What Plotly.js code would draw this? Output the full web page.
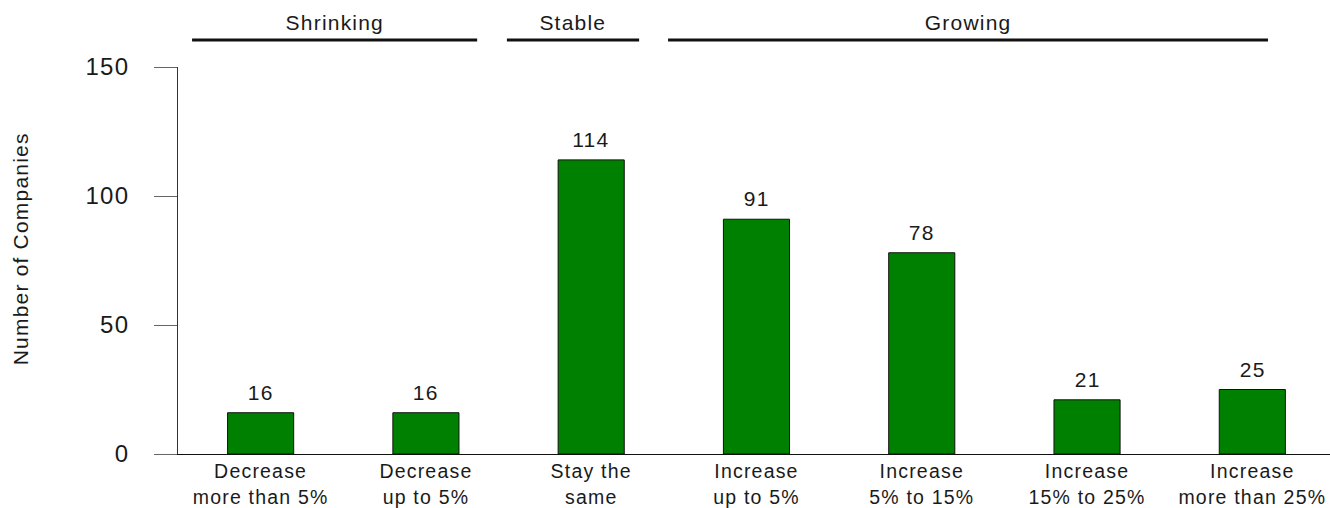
<!DOCTYPE html>
<html>
<head>
<meta charset="utf-8">
<script src="https://cdn.plot.ly/plotly-3.0.1.min.js"></script>
<style>
  html, body { margin: 0; padding: 0; background: #fff; }
  #chart { width: 1330px; height: 508px; }
  /* slightly open tracking on every label */
  #chart text { letter-spacing: 1.2px; }
</style>
</head>
<body>
<div id="chart"></div>
<script>
// Expected change in company size
var categories = [
  'Decrease<br>more than 5%',
  'Decrease<br>up to 5%',
  'Stay the<br>same',
  'Increase<br>up to 5%',
  'Increase<br>5% to 15%',
  'Increase<br>15% to 25%',
  'Increase<br>more than 25%'
];
var companies = [16, 16, 114, 91, 78, 21, 25];

var yTickValues = [0, 50, 100, 150];
var yTickLabels = ['0', '50', '100', '150'];
var yTitle = 'Number of Companies';

// Group headers: label and the span (in category units) of the rule under it
var groupLabels = ['Shrinking', 'Stable', 'Growing'];
var groupStart = [-0.415, 1.49, 2.465];
var groupEnd = [1.31, 2.29, 6.095];

var FONT = 'Liberation Sans, Arial, sans-serif';
var TEXT = '#1a1a1a';

var xIndex = categories.map(function (_, i) { return i; });

var trace = {
  type: 'bar',
  x: xIndex,
  y: companies,
  width: 0.4,
  marker: { color: '#008000', line: { color: '#111111', width: 1 } },
  hoverinfo: 'skip'
};

// value labels above each bar
var annotations = companies.map(function (v, i) {
  return {
    x: i, y: v, xref: 'x', yref: 'y',
    text: String(v), showarrow: false,
    xanchor: 'center', yanchor: 'bottom', yshift: 7,
    font: { family: FONT, size: 21, color: TEXT }
  };
});

// group headers with a rule underneath
var shapes = [];
groupLabels.forEach(function (g, i) {
  shapes.push({
    type: 'line', xref: 'x', yref: 'paper',
    x0: groupStart[i], x1: groupEnd[i], y0: 1.07, y1: 1.07,
    line: { color: '#111111', width: 3 }
  });
  annotations.push({
    x: (groupStart[i] + groupEnd[i]) / 2, y: 1.08, xref: 'x', yref: 'paper',
    text: g, showarrow: false, xanchor: 'center', yanchor: 'bottom',
    font: { family: FONT, size: 21, color: TEXT }
  });
});

// vertical axis title, placed at the far left
annotations.push({
  x: 0, y: 0.53, xref: 'paper', yref: 'paper',
  xanchor: 'center', yanchor: 'middle', xshift: -157,
  text: yTitle, textangle: -90, showarrow: false,
  font: { family: FONT, size: 21, color: TEXT }
});

var layout = {
  width: 1330,
  height: 508,
  margin: { l: 178, r: 0, t: 67, b: 54 },
  paper_bgcolor: '#ffffff',
  plot_bgcolor: '#ffffff',
  showlegend: false,
  font: { family: FONT, color: TEXT },
  xaxis: {
    range: [-0.5, 6.47],
    tickmode: 'array',
    tickvals: xIndex,
    ticktext: categories,
    ticks: '',
    showgrid: false,
    zeroline: false,
    showline: true,
    linecolor: '#111111',
    linewidth: 1,
    tickfont: { family: FONT, size: 19.5, color: TEXT },
    fixedrange: true
  },
  yaxis: {
    range: [0, 150],
    tickmode: 'array',
    tickvals: yTickValues,
    ticktext: yTickLabels,
    ticks: 'outside',
    ticklen: 23,
    tickcolor: '#666666',
    tickwidth: 1,
    ticklabelstandoff: 20,
    showgrid: false,
    zeroline: false,
    showline: true,
    linecolor: '#333333',
    linewidth: 1,
    tickfont: { family: FONT, size: 24, color: TEXT },
    fixedrange: true
  },
  shapes: shapes,
  annotations: annotations
};

Plotly.newPlot('chart', [trace], layout, { displayModeBar: false, staticPlot: true });
</script>
</body>
</html>
